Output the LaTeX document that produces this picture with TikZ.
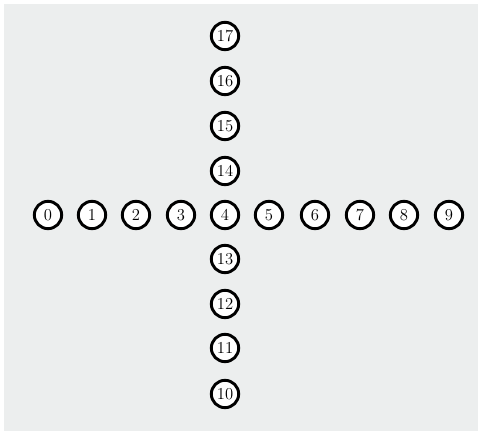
\documentclass[tikz,border=0pt]{standalone}
\usepackage{tikz}

\definecolor{bggray}{HTML}{ECEEEE}

\begin{document}
\begin{tikzpicture}[
    x=0.75pt, y=0.75pt,
    cell/.style={circle, draw, fill=white, line width=2.2pt, inner sep=0pt,
                 minimum size=20.5pt, font=\fontsize{12.5}{12.5}\selectfont}
]

    \useasboundingbox (0,0) rectangle (481,434);
    \fill[bggray] (4,3) rectangle (478,430);

    % horizontal row
    \node[cell] (C0) at (48,219) {0};
    \node[cell] (C1) at (92,219) {1};
    \node[cell] (C2) at (136,219) {2};
    \node[cell] (C3) at (181,219) {3};
    \node[cell] (C4) at (225,219) {4};
    \node[cell] (C5) at (269,219) {5};
    \node[cell] (C6) at (315,219) {6};
    \node[cell] (C7) at (360,219) {7};
    \node[cell] (C8) at (404,219) {8};
    \node[cell] (C9) at (449,219) {9};

    % vertical column
    \node[cell] (C10) at (225,40) {10};
    \node[cell] (C11) at (225,86) {11};
    \node[cell] (C12) at (225,130) {12};
    \node[cell] (C13) at (225,175) {13};
    \node[cell] (C14) at (225,263) {14};
    \node[cell] (C15) at (225,308) {15};
    \node[cell] (C16) at (225,353) {16};
    \node[cell] (C17) at (225,398) {17};

\end{tikzpicture}
\end{document}
